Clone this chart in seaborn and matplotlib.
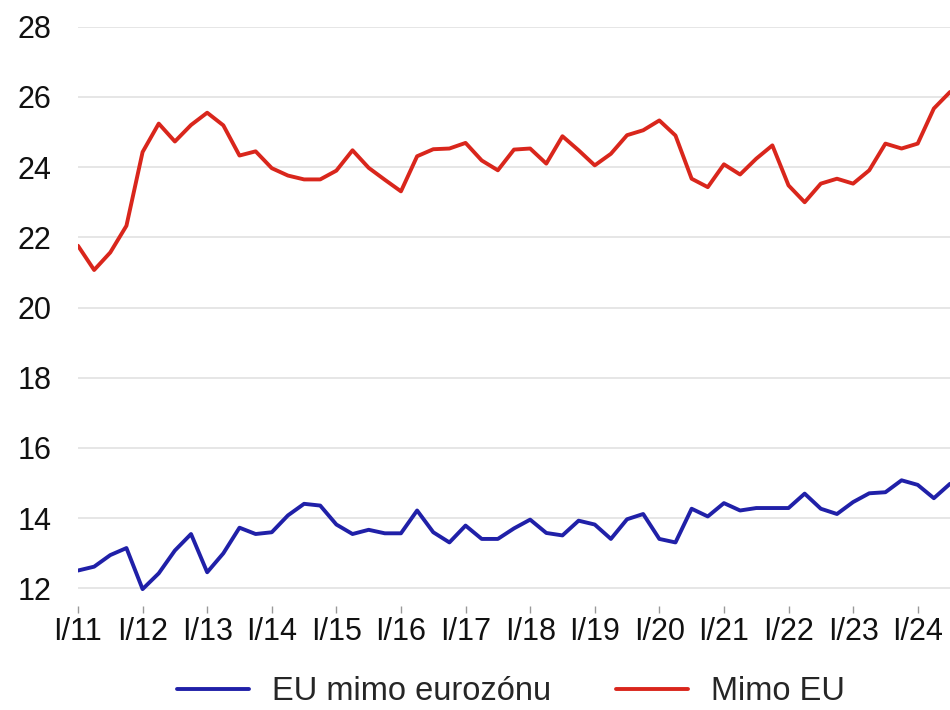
import seaborn as sns
import matplotlib.pyplot as plt
import numpy as np
import pandas as pd

# quarterly values, I/11 .. III/24
quarters = [f"{q}/{y}" for y in range(11, 25) for q in ["I", "II", "III", "IV"]][:55]

mimo_eu = [21.76, 21.07, 21.57, 22.33, 24.43, 25.24, 24.73, 25.2, 25.55, 25.19,
           24.33, 24.45, 23.97, 23.76, 23.65, 23.65, 23.9, 24.48, 23.98, 23.64,
           23.31, 24.31, 24.51, 24.53, 24.69, 24.19, 23.91, 24.5, 24.53, 24.1,
           24.88, 24.48, 24.05, 24.38, 24.91, 25.05, 25.33, 24.9, 23.67, 23.43,
           24.08, 23.79, 24.24, 24.62, 23.48, 23.0, 23.53, 23.67, 23.53, 23.91,
           24.67, 24.53, 24.67, 25.67, 26.14]

eu_mimo_ez = [12.51, 12.62, 12.95, 13.15, 11.98, 12.43, 13.08, 13.55, 12.46, 13.0,
              13.73, 13.55, 13.6, 14.08, 14.41, 14.36, 13.82, 13.55, 13.67, 13.57,
              13.57, 14.22, 13.6, 13.31, 13.79, 13.41, 13.41, 13.71, 13.96, 13.58,
              13.51, 13.93, 13.82, 13.41, 13.97, 14.12, 13.41, 13.31, 14.27, 14.05,
              14.43, 14.22, 14.29, 14.29, 14.29, 14.7, 14.27, 14.12, 14.46, 14.71,
              14.74, 15.08, 14.95, 14.57, 14.98]

series_names = ["EU mimo eurozónu", "Mimo EU"]
yticks = [12, 14, 16, 18, 20, 22, 24, 26, 28]

df = pd.DataFrame({
    "t": list(range(len(quarters))) * 2,
    "value": eu_mimo_ez + mimo_eu,
    "series": [series_names[0]] * len(quarters) + [series_names[1]] * len(quarters),
})

sns.set_theme(style="white")
plt.rcParams["font.family"] = ["Liberation Sans", "DejaVu Sans"]

fig = plt.figure(figsize=(9.5, 7.1), dpi=100)
ax = fig.add_axes([0.0821, 0.1465, 0.9179, 0.8159])

sns.lineplot(data=df, x="t", y="value", hue="series",
             palette={series_names[0]: "#2020a8", series_names[1]: "#d9261c"},
             linewidth=2.8, ax=ax)

ax.set_xlim(0, len(quarters) - 1)
ax.set_ylim(11.5, 28)
ax.set_yticks(yticks)
ax.set_yticklabels([str(v) for v in yticks])
tick_pos = list(range(0, len(quarters), 4))
ax.set_xticks(tick_pos)
ax.set_xticklabels([quarters[i] for i in tick_pos])
ax.set_xlabel("")
ax.set_ylabel("")

ax.grid(axis="y", color="#e4e4e4", linewidth=1.3)
ax.grid(axis="x", visible=False)
ax.set_axisbelow(True)
sns.despine(ax=ax, left=True, bottom=True)

ax.tick_params(axis="y", length=0, pad=19, labelsize=22, labelcolor="#111111")
ax.tick_params(axis="x", bottom=True, direction="out", length=5, width=1,
               color="#999999", pad=3, labelsize=22, labelcolor="#111111")

ax.get_legend().remove()
handles, labels = ax.get_legend_handles_labels()
fig.legend(handles, labels, loc="center", bbox_to_anchor=(0.538, 0.026),
           ncol=2, frameon=False, fontsize=23.5, handlelength=2.2,
           handletextpad=0.7, columnspacing=2.0)

plt.savefig("out.png", dpi=100)
